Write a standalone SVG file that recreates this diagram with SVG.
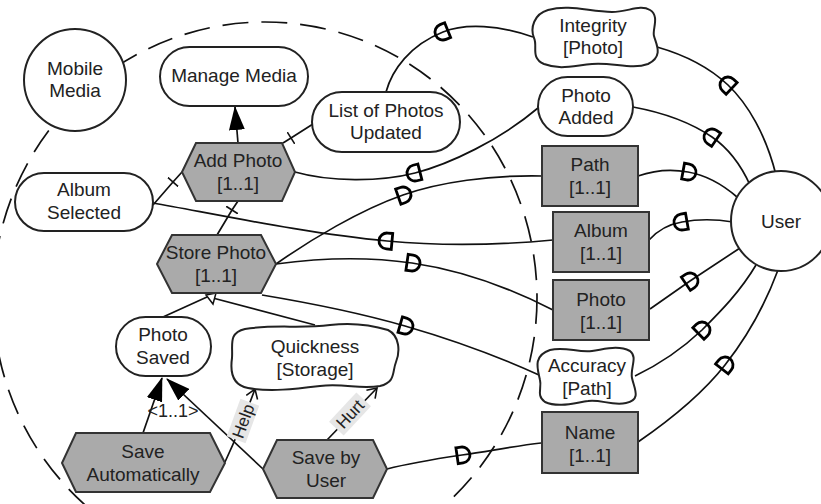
<svg xmlns="http://www.w3.org/2000/svg" width="821" height="504" viewBox="0 0 821 504">
<defs>
<style>
text{font-family:"Liberation Sans",Arial,sans-serif;font-size:19px;fill:#222;text-anchor:middle}
.n{fill:#fff;stroke:#222;stroke-width:2}
.g{fill:#aaaaaa;stroke:#333;stroke-width:2}
.c{fill:none;stroke:#111;stroke-width:1.7}
.lbl{font-size:17px}
</style>
<marker id="af" markerWidth="24" markerHeight="16" refX="23" refY="8" orient="auto" markerUnits="userSpaceOnUse"><path d="M0,0 L24,8 L0,16 Z" fill="#000"/></marker>
<marker id="av" markerWidth="12" markerHeight="14" refX="10" refY="7" orient="auto" markerUnits="userSpaceOnUse"><path d="M1,1 L10,7 L1,13" fill="none" stroke="#111" stroke-width="1.6"/></marker>
<marker id="tk" markerWidth="4" markerHeight="14" refX="2" refY="7" orient="auto" markerUnits="userSpaceOnUse"><path d="M2,0 V14" stroke="#111" stroke-width="1.6"/></marker>
<marker id="D" markerWidth="20" markerHeight="22" refX="7" refY="11" orient="auto" markerUnits="userSpaceOnUse" overflow="visible"><path d="M2,3 H7 A8,8 0 0 1 7,19 H2 Z" fill="none" stroke="#000" stroke-width="2.8"/></marker>
<marker id="Dr" markerWidth="20" markerHeight="22" refX="11" refY="11" orient="auto" markerUnits="userSpaceOnUse" overflow="visible"><path d="M16,3 H11 A8,8 0 0 0 11,19 H16 Z" fill="none" stroke="#000" stroke-width="2.8"/></marker>
</defs>
<rect width="821" height="504" fill="#fff"/>

<g id="boundary">
<ellipse cx="265" cy="298" rx="272" ry="276" fill="none" stroke="#111" stroke-width="1.7" stroke-dasharray="26 13"/>
</g>

<g id="connectors">
<path class="c" d="M238,143 L235,107" marker-end="url(#af)"/>
<path class="c" d="M283,143 L291,138 L313,124" marker-mid="url(#tk)"/>
<path class="c" d="M153,205 L173,182 L182,172" marker-mid="url(#tk)"/>
<path class="c" d="M217,235 L232,210 L238,201" marker-mid="url(#tk)"/>
<path class="c" d="M163,317 L207,297"/>
<path class="c" d="M315,325 L209,297"/>
<path d="M206,295 L216,293 L213,304 Z" fill="#fff" stroke="#111" stroke-width="1.5"/>
<path class="c" d="M143,433 L162,378" marker-end="url(#af)"/>
<path class="c" d="M263,469 L167,379" marker-end="url(#af)"/>
<path class="c" d="M225,462 Q240,430 255,389" marker-end="url(#av)"/>
<path class="c" d="M327,440 L377,388" marker-end="url(#av)"/>

<path class="c" d="M386,92 C392,70 410,45 443,32 C465,23 500,25 533,37" marker-mid="url(#Dr)"/>
<path class="c" d="M657,47 C685,55 710,68 728,85 C748,104 766,135 776,175" marker-mid="url(#Dr)"/>
<path class="c" d="M295,172 C330,182 380,182 415,173 C450,164 500,140 538,108" marker-mid="url(#Dr)"/>
<path class="c" d="M633,107 C660,112 690,122 712,137 C728,148 740,163 750,185" marker-mid="url(#Dr)"/>
<path class="c" d="M276,264 C310,240 360,210 403,195 C440,182 490,175 542,176" marker-mid="url(#D)"/>
<path class="c" d="M638,176 C655,170 672,169 688,172 C705,175 722,184 737,197" marker-mid="url(#D)"/>
<path class="c" d="M153,203 C220,215 310,234 387,241 C440,246 500,245 553,240" marker-mid="url(#Dr)"/>
<path class="c" d="M649,240 C658,230 670,224 682,222 C698,219 715,219 733,222" marker-mid="url(#Dr)"/>
<path class="c" d="M276,264 C320,258 370,257 412,263 C460,270 510,288 553,310" marker-mid="url(#D)"/>
<path class="c" d="M650,309 L690,281 L740,248" marker-mid="url(#D)"/>
<path class="c" d="M262,295 C310,303 360,313 405,326 C450,339 495,355 539,375" marker-mid="url(#D)"/>
<path class="c" d="M635,376 C660,364 683,348 702,330 C720,312 740,292 756,265" marker-mid="url(#D)"/>
<path class="c" d="M387,469 C410,463 435,459 462,455 C490,451 515,446 541,443" marker-mid="url(#D)"/>
<path class="c" d="M638,442 C670,420 703,393 725,365 C747,337 765,305 778,270" marker-mid="url(#D)"/>
</g>

<g id="mobile-media"><circle class="n" cx="75" cy="80" r="51"/><text x="75" y="75">Mobile</text><text x="75" y="97">Media</text></g>
<g id="manage-media"><rect class="n" x="160" y="47" width="148" height="59" rx="29.5"/><text x="234" y="82">Manage Media</text></g>
<g id="list-photos-updated"><rect class="n" x="312" y="92" width="148" height="60" rx="30"/><text x="386" y="117">List of Photos</text><text x="386" y="139">Updated</text></g>
<g id="album-selected"><rect class="n" x="15" y="173" width="138" height="58" rx="29"/><text x="84" y="196">Album</text><text x="84" y="219">Selected</text></g>
<g id="add-photo"><polygon class="g" points="182,172 196,143 282,143 295,172 282,201 196,201"/><text x="238" y="167">Add Photo</text><text x="238" y="190">[1..1]</text></g>
<g id="store-photo"><polygon class="g" points="157,264 172,235 261,235 276,264 261,293 172,293"/><text x="216" y="259">Store Photo</text><text x="216" y="282">[1..1]</text></g>
<g id="photo-saved"><rect class="n" x="116" y="317" width="95" height="59" rx="29.5"/><text x="163" y="341">Photo</text><text x="163" y="364">Saved</text></g>
<g id="quickness"><path class="n" d="M245,329 C275,324 300,329 330,325 C355,322 375,326 388,330 C400,336 400,352 396,362 C392,372 396,382 380,386 C360,390 345,383 320,386 C295,389 270,392 248,388 C232,385 230,372 232,358 C233,345 228,333 245,329 Z"/><text x="315" y="353">Quickness</text><text x="315" y="376">[Storage]</text></g>
<g id="save-automatically"><polygon class="g" points="62,463 76,433 210,433 225,463 210,492 76,492"/><text x="143" y="458">Save</text><text x="143" y="481">Automatically</text></g>
<g id="save-by-user"><polygon class="g" points="263,469 277,440 373,440 387,469 373,498 277,498"/><text x="326" y="464">Save by</text><text x="326" y="487">User</text></g>
<g id="integrity"><path class="n" d="M548,10 C570,4 590,12 612,12 C628,12 640,4 650,10 C660,16 652,30 654,36 C656,44 664,56 648,64 C632,70 612,62 592,64 C572,66 560,70 544,64 C530,58 538,46 534,38 C530,28 534,14 548,10 Z"/><text x="593" y="32">Integrity</text><text x="593" y="54">[Photo]</text></g>
<g id="photo-added"><rect class="n" x="538" y="77" width="95" height="59" rx="29.5"/><text x="586" y="102">Photo</text><text x="586" y="124">Added</text></g>
<g id="path"><rect class="g" x="542" y="146" width="96" height="60"/><text x="590" y="171">Path</text><text x="590" y="194">[1..1]</text></g>
<g id="album"><rect class="g" x="553" y="212" width="96" height="60"/><text x="601" y="237">Album</text><text x="601" y="260">[1..1]</text></g>
<g id="photo"><rect class="g" x="553" y="280" width="96" height="60"/><text x="601" y="306">Photo</text><text x="601" y="329">[1..1]</text></g>
<g id="accuracy"><path class="n" d="M550,350 C565,346 578,353 592,351 C606,349 618,345 630,351 C638,357 630,368 632,378 C634,388 642,400 626,403 C612,406 600,399 588,401 C574,403 558,408 545,402 C536,396 542,388 540,380 C538,370 532,356 550,350 Z"/><text x="587" y="372">Accuracy</text><text x="587" y="395">[Path]</text></g>
<g id="name"><rect class="g" x="542" y="412" width="96" height="61"/><text x="590" y="439">Name</text><text x="590" y="462">[1..1]</text></g>
<g id="user"><circle class="n" cx="781" cy="221" r="50"/><text x="781" y="228">User</text></g>

<g id="labels">
<text x="173" y="417" style="font-size:18px">&lt;1..1&gt;</text>
<g transform="translate(243,421) rotate(-70)"><rect x="-20" y="-10" width="40" height="20" fill="#e6e6e6"/><text class="lbl" x="0" y="6">Help</text></g>
<g transform="translate(350,414) rotate(-47)"><rect x="-20" y="-10" width="40" height="20" fill="#e6e6e6"/><text class="lbl" x="0" y="6">Hurt</text></g>
</g>
</svg>
